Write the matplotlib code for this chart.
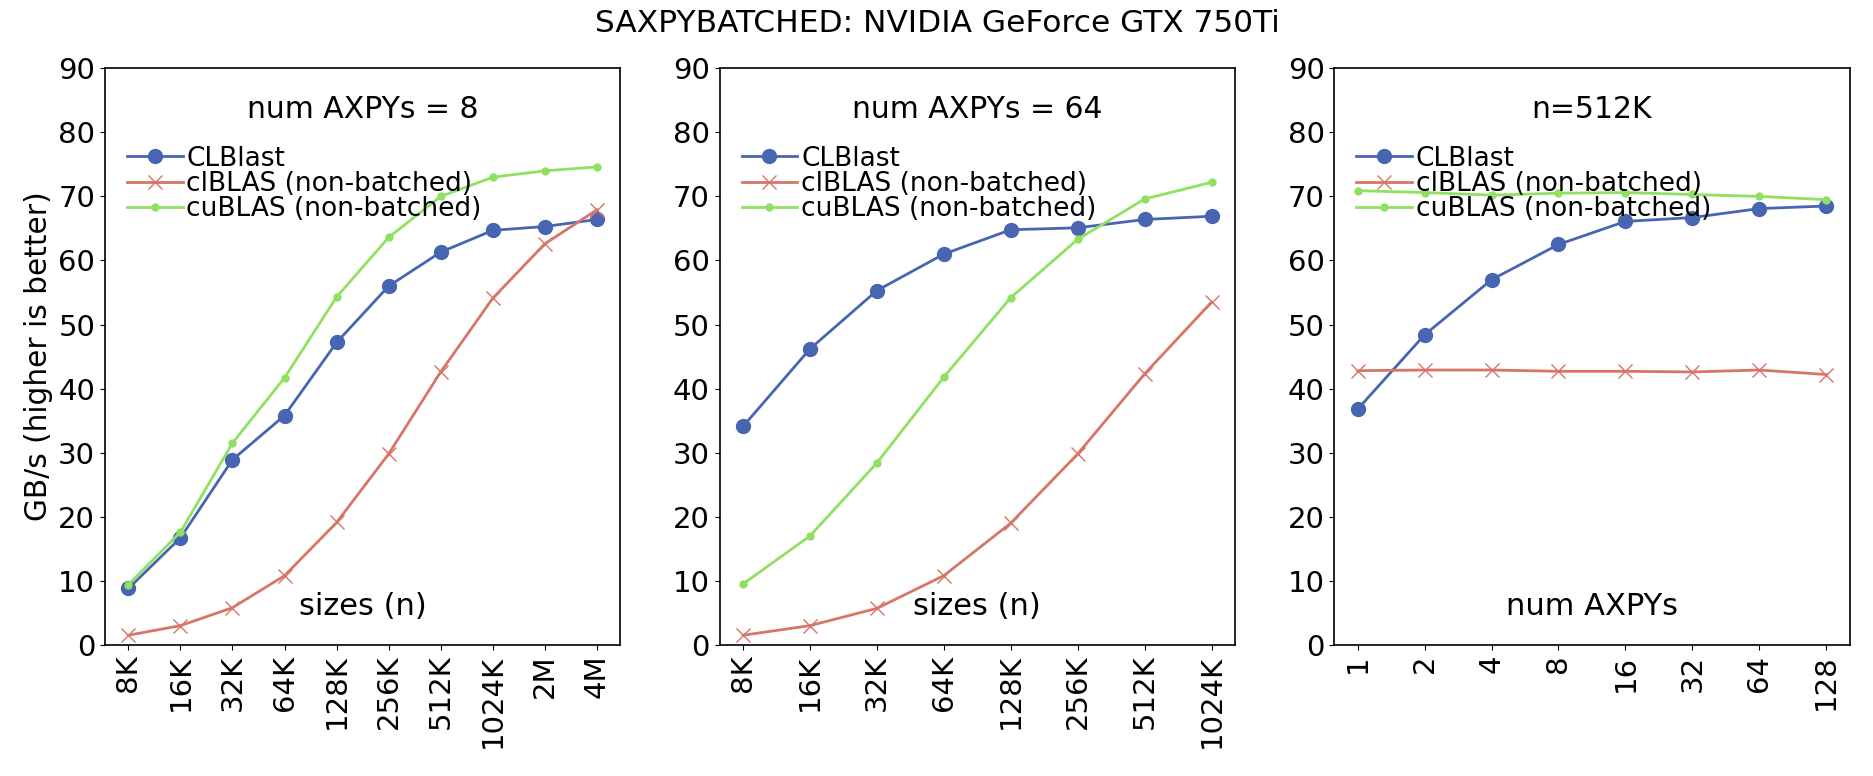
import matplotlib
matplotlib.use("Agg")
import matplotlib.pyplot as plt

# Colours used by the benchmark plots
BLUEISH = [c / 255.0 for c in [71, 101, 177]]
REDISH = [c / 255.0 for c in [214, 117, 104]]
GREEN = [c / 255.0 for c in [144, 224, 98]]

labels = ["CLBlast", "clBLAS (non-batched)", "cuBLAS (non-batched)"]
colors = [BLUEISH, REDISH, GREEN]
markers = ["o-", "x-", ".-"]

# Panel 1: num AXPYs = 8
sizes_1 = ["8K", "16K", "32K", "64K", "128K", "256K", "512K", "1024K", "2M", "4M"]
clblast_1 = [8.8, 16.7, 28.9, 35.8, 47.2, 56.0, 61.3, 64.7, 65.3, 66.4]
clblas_1 = [1.5, 3.0, 5.8, 10.8, 19.1, 29.8, 42.6, 54.1, 62.6, 67.9]
cublas_1 = [9.4, 17.6, 31.5, 41.7, 54.3, 63.6, 70.0, 73.0, 74.0, 74.6]

# Panel 2: num AXPYs = 64
sizes_2 = ["8K", "16K", "32K", "64K", "128K", "256K", "512K", "1024K"]
clblast_2 = [34.1, 46.2, 55.3, 61.0, 64.8, 65.1, 66.4, 66.9]
clblas_2 = [1.5, 3.0, 5.7, 10.8, 19.0, 29.8, 42.3, 53.5]
cublas_2 = [9.5, 17.0, 28.4, 41.8, 54.2, 63.3, 69.6, 72.2]

# Panel 3: n = 512K
axpys_3 = ["1", "2", "4", "8", "16", "32", "64", "128"]
clblast_3 = [36.8, 48.4, 57.0, 62.5, 66.1, 66.7, 68.1, 68.5]
clblas_3 = [42.8, 42.9, 42.9, 42.7, 42.7, 42.6, 42.9, 42.2]
cublas_3 = [70.9, 70.6, 70.2, 70.5, 70.6, 70.3, 70.0, 69.5]

panels = [
    ("num AXPYs = 8", "sizes (n)", sizes_1, [clblast_1, clblas_1, cublas_1]),
    ("num AXPYs = 64", "sizes (n)", sizes_2, [clblast_2, clblas_2, cublas_2]),
    ("n=512K", "num AXPYs", axpys_3, [clblast_3, clblas_3, cublas_3]),
]

fig = plt.figure(figsize=(18.74, 7.76), dpi=100)
lefts = [0.056, 0.384, 0.712]
width = 0.275
bottom, height = 0.169, 0.743

for i, (title, xlabel, ticks, series) in enumerate(panels):
    ax = fig.add_axes([lefts[i], bottom, width, height])
    x = list(range(len(ticks)))
    for values, label, color, marker in zip(series, labels, colors, markers):
        ax.plot(x, values, marker, color=color, label=label,
                linewidth=2, markersize=10)
    ax.set_ylim(0, 90)
    ax.set_yticks(range(0, 91, 10))
    ax.set_xticks(x)
    ax.set_xticklabels(ticks, rotation=90)
    ax.tick_params(labelsize=21)
    for spine in ax.spines.values():
        spine.set_linewidth(1.2)
    ax.text(0.5, 0.928, title, transform=ax.transAxes, ha="center",
            va="center", fontsize=21.5)
    ax.text(0.5, 0.066, xlabel, transform=ax.transAxes, ha="center",
            va="center", fontsize=22)
    ax.legend(loc="upper left", bbox_to_anchor=(0.043, 0.866), frameon=False,
              fontsize=19, labelspacing=-0.03, handlelength=2.1,
              handletextpad=0.15, borderaxespad=0, borderpad=0)
    if i == 0:
        ax.set_ylabel("GB/s (higher is better)", fontsize=21.3)

fig.suptitle("SAXPYBATCHED: NVIDIA GeForce GTX 750Ti", fontsize=22.5,
             y=0.970, va="center")
fig.savefig("out.png", dpi=100)
